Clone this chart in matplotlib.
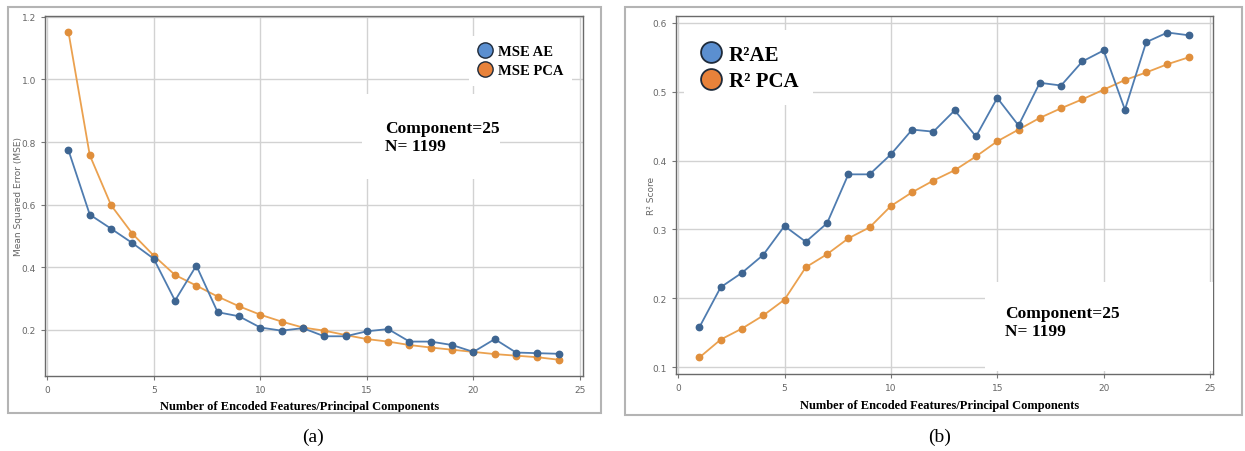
import matplotlib
matplotlib.use("Agg")
import matplotlib.pyplot as plt
from matplotlib.patches import Rectangle
from matplotlib.lines import Line2D

# ---------------- data ----------------
n_components = list(range(1, 25))

mse_ae = [0.774, 0.568, 0.523, 0.477, 0.427, 0.293, 0.405, 0.256, 0.243, 0.207,
          0.197, 0.205, 0.179, 0.179, 0.195, 0.202, 0.162, 0.162, 0.151, 0.129,
          0.170, 0.127, 0.125, 0.123]
mse_pca = [1.152, 0.758, 0.598, 0.507, 0.437, 0.375, 0.341, 0.306, 0.275, 0.248,
           0.226, 0.207, 0.197, 0.183, 0.170, 0.162, 0.151, 0.143, 0.136, 0.129,
           0.122, 0.117, 0.112, 0.104]

r2_ae = [0.158, 0.216, 0.237, 0.263, 0.305, 0.282, 0.309, 0.380, 0.380, 0.409,
         0.445, 0.442, 0.473, 0.435, 0.491, 0.451, 0.513, 0.509, 0.544, 0.560,
         0.474, 0.572, 0.586, 0.582]
r2_pca = [0.114, 0.140, 0.156, 0.175, 0.198, 0.245, 0.264, 0.287, 0.303, 0.334,
          0.354, 0.371, 0.386, 0.406, 0.428, 0.445, 0.462, 0.476, 0.489, 0.503,
          0.517, 0.528, 0.540, 0.550]

x_ticks = [0, 5, 10, 15, 20, 25]
mse_ticks = [0.2, 0.4, 0.6, 0.8, 1.0, 1.2]
r2_ticks = [0.1, 0.2, 0.3, 0.4, 0.5, 0.6]

mse_labels = ["MSE AE", "MSE PCA"]
r2_labels = ["R²AE", "R² PCA"]
annotation = "Component=25\nN= 1199"
xlabel = "Number of Encoded Features/Principal Components"

# ---------------- style ----------------
AE_LINE = "#4f7cb0"
AE_MARK = "#3e6591"
PCA_LINE = "#eba14f"
PCA_MARK = "#e08f3c"
LEG_BLUE = "#5b8fd0"
LEG_ORANGE = "#e8823a"
SERIF = ["Liberation Serif", "DejaVu Serif"]

fig = plt.figure(figsize=(12.45, 4.52), dpi=100)

# panel frames
for (x0, y0, x1, y1) in [(8, 8, 601, 414), (625, 8, 1242, 416)]:
    fig.patches.append(Rectangle((x0 / 1245, 1 - y1 / 452), (x1 - x0) / 1245, (y1 - y0) / 452,
                                 transform=fig.transFigure, fill=False,
                                 edgecolor="#b4b4b4", linewidth=1.5))

axL = fig.add_axes([45 / 1245, 1 - 377 / 452, 538 / 1245, 360 / 452])
axR = fig.add_axes([676 / 1245, 1 - 375 / 452, 537 / 1245, 358 / 452])


def style(ax, yticks, ylim):
    ax.set_xlim(-0.1, 25.14)
    ax.set_ylim(*ylim)
    ax.set_xticks(x_ticks)
    ax.set_yticks(yticks)
    ax.set_yticklabels([f"{t:.1f}" for t in yticks])
    ax.grid(True, color="#d2d2d2", linewidth=1.0)
    ax.set_axisbelow(True)
    for s in ax.spines.values():
        s.set_color("#6a6a6a")
        s.set_linewidth(1.0)
    ax.tick_params(labelsize=6.5, labelcolor="#666666", color="#777777", length=3)


def plot_pair(ax, a, b):
    ax.plot(n_components, b, color=PCA_LINE, lw=1.3, marker="o", ms=4.6,
            mfc=PCA_MARK, mec=PCA_MARK, zorder=3)
    ax.plot(n_components, a, color=AE_LINE, lw=1.3, marker="o", ms=4.6,
            mfc=AE_MARK, mec=AE_MARK, zorder=4)


# ---------- left panel ----------
style(axL, mse_ticks, (0.052, 1.203))
plot_pair(axL, mse_ae, mse_pca)
axL.set_ylabel("Mean Squared Error (MSE)", fontsize=6.5, color="#666666")
axL.yaxis.set_label_coords(-0.041, 0.5)
axL.set_xlabel(xlabel, fontsize=9, fontweight="bold", family=SERIF)
axL.xaxis.set_label_coords(0.474, -0.068)

axL.add_patch(Rectangle((0.589, 0.547), 0.257, 0.236, transform=axL.transAxes,
                        facecolor="white", edgecolor="none", zorder=5))
axL.text(0.632, 0.663, annotation, transform=axL.transAxes, fontsize=12.5,
         fontweight="bold", family=SERIF, va="center", ha="left",
         linespacing=1.15, zorder=6)

handlesL = [Line2D([], [], ls="", marker="o", ms=11, mfc=LEG_BLUE, mec="#1e2a3a", mew=1.0),
            Line2D([], [], ls="", marker="o", ms=11, mfc=LEG_ORANGE, mec="#1e2a3a", mew=1.0)]
legL = axL.legend(handlesL, mse_labels, loc="upper left", bbox_to_anchor=(0.775, 0.965),
                  prop={"family": SERIF, "weight": "bold", "size": 10.5},
                  frameon=True, fancybox=False, handletextpad=0.35, labelspacing=0.4,
                  borderpad=0.6, handlelength=1.0)
legL.get_frame().set_facecolor("white")
legL.get_frame().set_edgecolor("none")
legL.get_frame().set_alpha(1)
legL.set_zorder(6)

# ---------- right panel ----------
style(axR, r2_ticks, (0.09, 0.61))
plot_pair(axR, r2_ae, r2_pca)
axR.set_ylabel("R² Score", fontsize=6.5, color="#666666")
axR.yaxis.set_label_coords(-0.038, 0.5)
axR.set_xlabel(xlabel, fontsize=9, fontweight="bold", family=SERIF)
axR.xaxis.set_label_coords(0.49, -0.07)

axR.add_patch(Rectangle((0.575, 0.008), 0.425, 0.249, transform=axR.transAxes,
                        facecolor="white", edgecolor="none", zorder=5))
axR.text(0.613, 0.145, annotation, transform=axR.transAxes, fontsize=12.5,
         fontweight="bold", family=SERIF, va="center", ha="left",
         linespacing=1.15, zorder=6)

handlesR = [Line2D([], [], ls="", marker="o", ms=15, mfc=LEG_BLUE, mec="#1e2a3a", mew=1.3),
            Line2D([], [], ls="", marker="o", ms=15, mfc=LEG_ORANGE, mec="#1e2a3a", mew=1.3)]
legR = axR.legend(handlesR, r2_labels, loc="upper left", bbox_to_anchor=(-0.005, 0.99),
                  prop={"family": SERIF, "weight": "bold", "size": 15},
                  frameon=True, fancybox=False, handletextpad=0.25, labelspacing=0.3,
                  borderpad=0.7, handlelength=1.2)
legR.get_frame().set_facecolor("white")
legR.get_frame().set_edgecolor("none")
legR.get_frame().set_alpha(1)
legR.set_zorder(6)

# captions
fig.text(313 / 1245, 1 - 437 / 452, "(a)", fontsize=14, family=SERIF, ha="center", va="center")
fig.text(940 / 1245, 1 - 437 / 452, "(b)", fontsize=14, family=SERIF, ha="center", va="center")

fig.savefig("out.png", dpi=100, facecolor="white")
